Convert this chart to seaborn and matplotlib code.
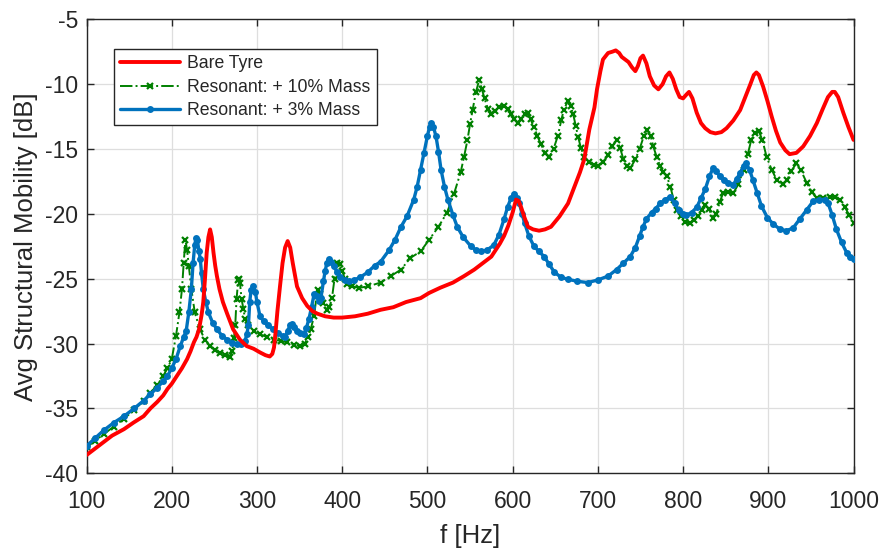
import numpy as np
import pandas as pd
import seaborn as sb
import matplotlib
matplotlib.use('Agg')
import matplotlib.pyplot as plt

# Bare tyre
f_bare = [100, 110, 120, 130, 144, 155, 167, 175, 183, 190, 195, 200, 206, 212, 218, 222, 226, 229, 232, 235,
          237, 239, 241, 243, 245, 247, 249, 251, 253, 256, 260, 265, 272, 280, 288, 296, 304, 310, 315, 318,
          320, 322, 324, 327, 330, 333, 336, 339, 342, 347, 353, 359, 365, 371, 380, 390, 400, 415, 430, 445,
          460, 475, 492, 502, 515, 530, 543, 555, 565, 575, 585, 590, 595, 600, 604, 607, 610, 614, 618, 624,
          631, 638, 645, 655, 665, 672, 679, 684, 690, 696, 699, 703, 706, 712, 717, 721, 725, 728, 732, 736,
          740, 744, 747, 750, 753, 757, 761, 766, 771, 776, 780, 784, 788, 792, 796, 800, 804, 807, 811, 816,
          821, 826, 832, 838, 845, 851, 859, 867, 873, 879, 883, 886, 889, 894, 899, 904, 909, 914, 920, 925,
          933, 941, 949, 957, 964, 970, 975, 978, 982, 988, 994, 1000]
m_bare = [-38.6, -38.1, -37.6, -37.1, -36.6, -36.1, -35.6, -35.0, -34.5, -34.0, -33.5, -33.1, -32.5, -31.9, -31.2, -30.6, -29.9, -29.5, -28.9, -27.8,
          -26.8, -25.0, -23.0, -21.8, -21.2, -21.8, -23.0, -24.0, -24.8, -25.8, -26.8, -27.7, -28.9, -29.7, -30.2, -30.4, -30.7, -30.9, -31.0, -30.8,
          -30.3, -29.0, -27.5, -25.6, -23.8, -22.6, -22.1, -22.6, -23.8, -25.6, -26.5, -27.1, -27.5, -27.7, -27.9, -28.0, -28.0, -27.9, -27.7, -27.4,
          -27.2, -26.8, -26.5, -26.1, -25.7, -25.3, -24.8, -24.3, -23.8, -23.3, -22.3, -21.7, -20.9, -19.9, -18.9, -19.0, -19.5, -20.3, -21.0, -21.2,
          -21.3, -21.2, -21.0, -20.2, -19.2, -18.0, -16.8, -15.8, -13.5, -11.8, -10.4, -9.0, -8.1, -7.6, -7.5, -7.4, -7.6, -7.9, -8.1, -8.3,
          -8.7, -9.0, -8.6, -8.0, -7.8, -8.4, -9.4, -10.1, -10.4, -10.0, -9.4, -9.1, -9.6, -10.4, -11.0, -11.1, -10.8, -10.6, -11.1, -12.2,
          -13.0, -13.4, -13.7, -13.8, -13.7, -13.4, -12.8, -12.0, -11.0, -10.0, -9.3, -9.1, -9.3, -10.2, -11.3, -12.5, -13.6, -14.5, -15.1, -15.4,
          -15.3, -14.8, -14.0, -13.0, -11.9, -11.0, -10.6, -10.6, -11.0, -12.2, -13.3, -14.3]

# Resonant + 10% mass
f_10 = [100, 110, 120, 132, 144, 156, 167, 175, 183, 190, 195, 200, 205, 209, 212, 214, 216, 218, 220, 223,
        227, 233, 239, 245, 251, 257, 263, 268, 271, 273, 274.5, 276, 278, 279, 280, 282, 284, 286, 290, 296,
        304, 312, 320, 328, 335, 343, 351, 356, 360, 363, 367, 370, 372, 374, 377, 382, 385, 388, 391, 394,
        397, 400, 403, 406, 412, 420, 430, 445, 457, 469, 480, 492, 502, 513, 523, 531, 539, 543, 547, 550,
        553, 557, 560.7, 564, 567, 571, 575, 579, 584, 590, 594, 598, 602, 606, 610, 614, 617.6, 621, 625, 629,
        633, 638, 643, 648, 653, 657, 660, 664.7, 668, 671, 674, 677, 680, 684, 690, 695, 700, 706, 712, 717,
        722, 726, 730, 734, 738, 744, 749, 754, 758, 762, 765, 769, 773, 777, 781, 785, 789, 793, 797, 802,
        808, 813, 818, 822, 826, 830, 835, 839, 843, 847, 853, 859, 865, 871, 876, 880, 884, 889, 893, 898,
        904, 910, 917, 922, 927, 933, 938, 945, 951, 957, 964, 972, 978, 984, 990, 995, 1000]
m_10 = [-38.0, -37.5, -37.0, -36.4, -35.8, -35.1, -34.4, -33.8, -33.2, -32.5, -31.9, -31.2, -29.4, -27.6, -25.8, -23.8, -22.0, -22.8, -24.0, -25.8,
        -27.6, -28.9, -29.7, -30.2, -30.5, -30.7, -30.9, -31.0, -30.6, -29.6, -28.6, -26.6, -25.1, -25.05, -25.3, -26.6, -27.3, -28.1, -28.6, -29.0,
        -29.3, -29.5, -29.7, -29.8, -29.9, -30.1, -30.2, -30.0, -29.5, -28.9, -27.9, -26.3, -25.9, -26.2, -26.9, -27.4, -27.2, -26.5, -25.0, -23.8,
        -23.9, -24.4, -25.0, -25.4, -25.6, -25.7, -25.6, -25.3, -24.8, -24.3, -23.4, -22.9, -22.0, -21.0, -19.9, -18.5, -16.8, -15.6, -14.3, -13.1,
        -12.0, -10.6, -9.7, -10.4, -11.1, -11.9, -12.3, -12.1, -11.8, -11.7, -11.9, -12.3, -12.7, -13.0, -12.7, -12.3, -12.2, -12.7, -13.3, -14.0,
        -14.6, -15.3, -15.6, -15.0, -14.0, -12.8, -12.0, -11.3, -11.7, -12.3, -13.2, -14.1, -14.9, -15.6, -16.0, -16.2, -16.3, -16.0, -15.5, -14.8,
        -14.3, -14.9, -15.8, -16.3, -16.5, -15.8, -15.0, -14.0, -13.55, -14.0, -14.8, -15.6, -16.3, -16.8, -17.1, -17.9, -18.9, -19.7, -20.2, -20.6,
        -20.7, -20.5, -20.2, -19.7, -19.3, -19.6, -20.3, -20.0, -19.1, -18.4, -18.3, -18.4, -17.7, -16.6, -15.4, -14.3, -13.8, -13.65, -14.3, -15.6,
        -16.6, -17.4, -17.7, -17.4, -16.7, -16.1, -16.6, -17.6, -18.3, -18.8, -18.8, -18.7, -18.7, -18.9, -19.5, -20.1, -20.7]

# Resonant + 3% mass
f_3 = [100, 110, 120, 132, 144, 156, 167, 175, 183, 190, 195, 200, 205, 210, 214, 217, 220, 223, 225, 227,
       228.5, 230, 232, 233.5, 235, 237, 240, 243, 248, 253, 259, 265, 271, 276, 281, 286, 288, 290, 291.5, 293,
       295.7, 298, 300, 303.6, 308, 313, 319, 325, 330, 333, 336, 339, 341, 344, 347, 351, 355, 358, 361, 364,
       367, 370, 372.5, 375, 378, 380, 382, 384, 387, 390, 394, 398, 403, 408, 414, 421, 430, 438, 445, 455,
       462, 469, 476, 484, 488, 492, 496, 500, 502.5, 504.7, 507, 510, 513, 516, 520, 524, 530, 535, 542, 551,
       557, 563, 570, 578, 584, 590, 594, 598, 602, 605, 608, 611, 614, 619, 625, 631, 637, 643, 649, 657,
       665, 676, 688, 700, 712, 722, 730, 738, 744, 749, 753, 757, 763, 768, 773, 779, 785, 790, 795, 800,
       804, 810, 816, 821, 826, 831, 835, 839, 843, 848, 853, 859, 863, 867, 871, 874, 878, 882, 887, 892,
       899, 906, 914, 921, 929, 937, 945, 953, 960, 966, 970, 975, 980, 986, 992, 996, 1000]
m_3 = [-37.9, -37.3, -36.7, -36.1, -35.6, -35.0, -34.4, -33.9, -33.4, -32.9, -32.5, -31.9, -31.2, -30.2, -29.5, -29.0, -27.6, -25.8, -23.8, -22.4,
       -21.85, -22.0, -22.9, -23.5, -24.6, -25.8, -26.8, -27.6, -28.4, -28.9, -29.4, -29.7, -29.95, -30.05, -30.0, -29.8, -29.3, -28.6, -26.8, -25.9,
       -25.6, -26.0, -26.8, -27.9, -28.3, -28.6, -28.9, -29.2, -29.4, -29.5, -29.0, -28.6, -28.5, -28.7, -29.0, -29.2, -29.3, -28.8, -28.1, -27.2,
       -26.2, -26.3, -26.7, -26.5, -25.2, -24.4, -23.8, -23.5, -23.7, -24.0, -24.5, -24.9, -25.1, -25.2, -25.1, -24.9, -24.5, -24.0, -23.7, -22.8,
       -22.0, -21.0, -20.2, -18.9, -17.9, -16.6, -15.3, -14.0, -13.3, -13.0, -13.3, -14.0, -15.2, -16.6, -17.9, -18.9, -20.1, -21.0, -21.8, -22.5,
       -22.8, -22.9, -22.8, -22.4, -21.6, -20.4, -19.5, -18.8, -18.5, -18.8, -19.2, -20.0, -20.7, -21.7, -22.5, -22.9, -23.3, -23.9, -24.5, -24.9,
       -25.05, -25.2, -25.3, -25.1, -24.8, -24.3, -23.8, -23.3, -22.6, -21.7, -21.0, -20.4, -19.9, -19.6, -19.2, -18.9, -18.7, -19.2, -19.7, -20.0,
       -20.1, -19.9, -19.5, -18.8, -18.1, -17.1, -16.5, -16.7, -17.1, -17.4, -17.6, -17.75, -17.3, -16.85, -16.3, -16.1, -16.6, -17.4, -18.4, -19.4,
       -20.3, -20.8, -21.2, -21.3, -21.1, -20.4, -19.7, -19.0, -18.9, -18.9, -19.15, -20.1, -21.2, -22.2, -23.0, -23.3, -23.5]

df_bare = pd.DataFrame({'f': f_bare, 'mob': m_bare})
df_10 = pd.DataFrame({'f': f_10, 'mob': m_10})
df_3 = pd.DataFrame({'f': f_3, 'mob': m_3})

sb.set_style('whitegrid')
plt.rcParams['font.family'] = ['Liberation Sans', 'DejaVu Sans']
plt.rcParams['axes.unicode_minus'] = False

green = (0, 0.5, 0)
blue = '#0072BD'

fig = plt.figure(figsize=(8.83, 5.49), dpi=100)
ax = fig.add_axes([0.098, 0.138, 0.8686, 0.8269])

sb.lineplot(data=df_10, x='f', y='mob', ax=ax, color=green, linestyle='-.', linewidth=1.4,
            marker='x', markersize=4, markeredgewidth=1.6, markeredgecolor=green,
            estimator=None, sort=False, label='Resonant: + 10% Mass', zorder=2)
sb.lineplot(data=df_3, x='f', y='mob', ax=ax, color=blue, linewidth=2.4,
            marker='o', markersize=5, markeredgewidth=0, markeredgecolor=blue,
            estimator=None, sort=False, label='Resonant: + 3% Mass', zorder=3)
sb.lineplot(data=df_bare, x='f', y='mob', ax=ax, color='#FF0000', linewidth=2.8,
            estimator=None, sort=False, label='Bare Tyre', zorder=4)

ax.set_xlim(100, 1000)
ax.set_ylim(-40, -5)
ax.set_xticks(np.arange(100, 1001, 100))
ax.set_yticks(np.arange(-40, -4, 5))
ax.grid(True, color='#dedede', linewidth=0.9)
ax.set_axisbelow(True)
for s in ax.spines.values():
    s.set_color('#262626')
    s.set_linewidth(1.0)
    s.set_visible(True)
ax.tick_params(direction='in', length=5, width=1.0, color='#262626', labelcolor='#262626',
               labelsize=16.5, top=True, right=True, bottom=True, left=True)
ax.tick_params(axis='x', pad=12)
ax.tick_params(axis='y', pad=6)
ax.set_xlabel('f [Hz]', fontsize=18.5, color='#262626', labelpad=8)
ax.set_ylabel('Avg Structural Mobility [dB]', fontsize=18.5, color='#262626', labelpad=5)

h, l = ax.get_legend_handles_labels()
order = [2, 0, 1]
leg = ax.legend([h[i] for i in order], [l[i] for i in order], loc='upper left',
                bbox_to_anchor=(0.036, 0.934), borderaxespad=0, fontsize=12.7,
                fancybox=False, framealpha=1, edgecolor='#262626', handlelength=3.4,
                labelspacing=0.36, borderpad=0.35, handletextpad=0.4)
leg.get_frame().set_linewidth(1.0)

plt.savefig('out.png', dpi=100)
